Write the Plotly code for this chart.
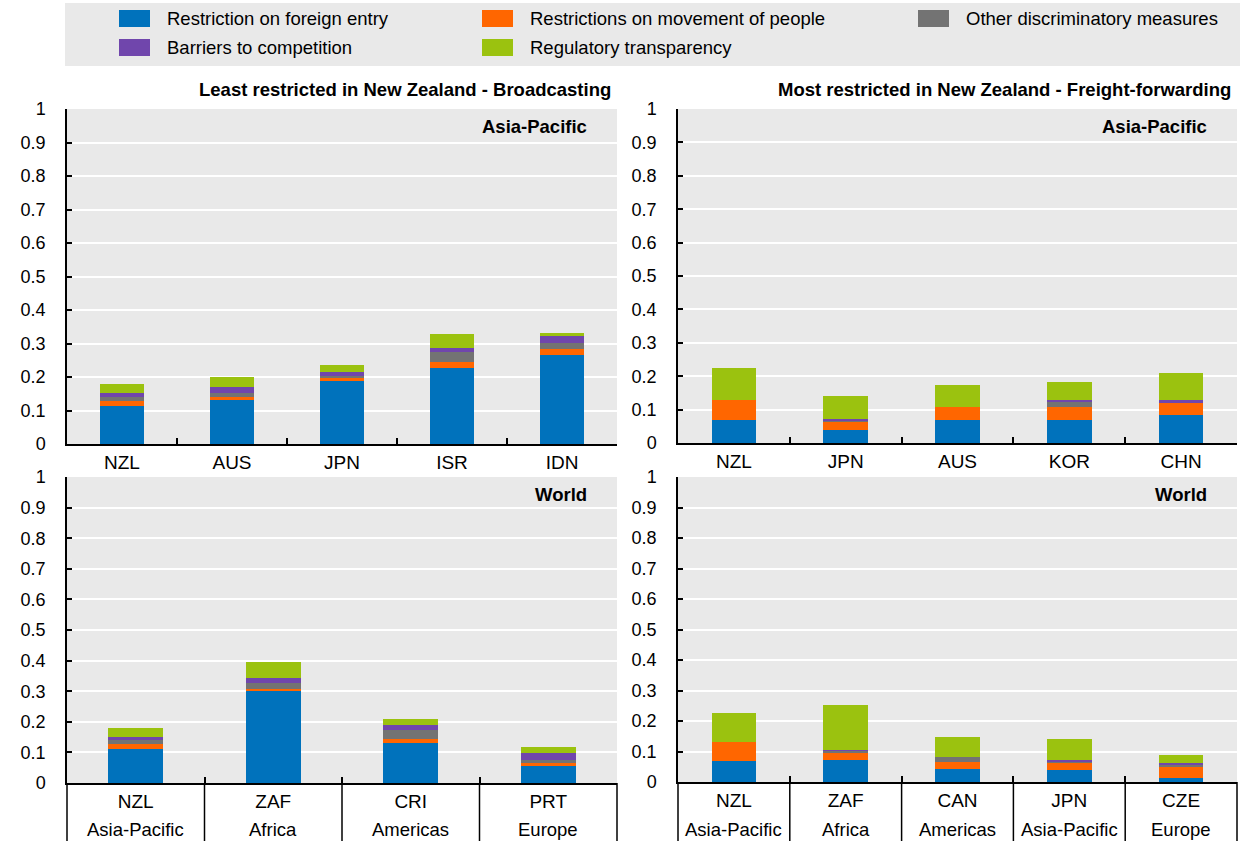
import plotly.graph_objects as go

# Services trade restrictiveness components
series = [
    "Restriction on foreign entry",
    "Restrictions on movement of people",
    "Other discriminatory measures",
    "Barriers to competition",
    "Regulatory transparency",
]
colors = ["#0072BC", "#FF6600", "#737373", "#7046AC", "#9BC20F"]

# Broadcasting - Asia-Pacific
bc_ap_countries = ["NZL", "AUS", "JPN", "ISR", "IDN"]
bc_ap_foreign = [0.112, 0.132, 0.187, 0.226, 0.265]
bc_ap_people = [0.016, 0.008, 0.010, 0.018, 0.019]
bc_ap_other = [0.011, 0.012, 0.006, 0.031, 0.018]
bc_ap_barriers = [0.012, 0.017, 0.011, 0.011, 0.020]
bc_ap_transp = [0.029, 0.030, 0.021, 0.041, 0.010]

# Freight-forwarding - Asia-Pacific
ff_ap_countries = ["NZL", "JPN", "AUS", "KOR", "CHN"]
ff_ap_foreign = [0.070, 0.040, 0.070, 0.070, 0.084]
ff_ap_people = [0.060, 0.025, 0.037, 0.037, 0.037]
ff_ap_other = [0.000, 0.003, 0.000, 0.015, 0.000]
ff_ap_barriers = [0.000, 0.005, 0.000, 0.008, 0.009]
ff_ap_transp = [0.095, 0.067, 0.067, 0.054, 0.081]

# Broadcasting - World
bc_w_countries = ["NZL", "ZAF", "CRI", "PRT"]
bc_w_regions = ["Asia-Pacific", "Africa", "Americas", "Europe"]
bc_w_foreign = [0.112, 0.300, 0.130, 0.055]
bc_w_people = [0.016, 0.008, 0.013, 0.010]
bc_w_other = [0.011, 0.020, 0.029, 0.009]
bc_w_barriers = [0.012, 0.015, 0.016, 0.024]
bc_w_transp = [0.029, 0.051, 0.022, 0.020]

# Freight-forwarding - World
ff_w_countries = ["NZL", "ZAF", "CAN", "JPN", "CZE"]
ff_w_regions = ["Asia-Pacific", "Africa", "Americas", "Asia-Pacific", "Europe"]
ff_w_foreign = [0.070, 0.071, 0.042, 0.040, 0.013]
ff_w_people = [0.060, 0.024, 0.025, 0.025, 0.035]
ff_w_other = [0.000, 0.007, 0.014, 0.003, 0.007]
ff_w_barriers = [0.000, 0.003, 0.000, 0.005, 0.007]
ff_w_transp = [0.095, 0.148, 0.068, 0.067, 0.026]

panel_titles = ["Least restricted in New Zealand - Broadcasting",
                "Most restricted in New Zealand - Freight-forwarding"]
panel_tags = ["Asia-Pacific", "Asia-Pacific", "World", "World"]

FONT = "Liberation Sans, Arial, sans-serif"
W, H = 1245, 841
FS = 18.5

panels = [
    ("x", "y", bc_ap_countries, None,
     [bc_ap_foreign, bc_ap_people, bc_ap_other, bc_ap_barriers, bc_ap_transp]),
    ("x2", "y2", ff_ap_countries, None,
     [ff_ap_foreign, ff_ap_people, ff_ap_other, ff_ap_barriers, ff_ap_transp]),
    ("x3", "y3", bc_w_countries, bc_w_regions,
     [bc_w_foreign, bc_w_people, bc_w_other, bc_w_barriers, bc_w_transp]),
    ("x4", "y4", ff_w_countries, ff_w_regions,
     [ff_w_foreign, ff_w_people, ff_w_other, ff_w_barriers, ff_w_transp]),
]

fig = go.Figure()
for xa, ya, cats, regions, values in panels:
    for name, col, vals in zip(series, colors, values):
        fig.add_trace(go.Bar(
            x=cats, y=vals, name=name, xaxis=xa, yaxis=ya,
            marker=dict(color=col, line=dict(width=0)),
            showlegend=False,
        ))

# Pixel-based panel placement
def px_x(a, b):
    return [a / W, b / W]

def px_y(top, bottom):
    return [1 - bottom / H, 1 - top / H]

domains = {
    "1": (px_x(67, 617), px_y(109, 444)),
    "2": (px_x(678, 1237), px_y(109, 443)),
    "3": (px_x(67, 617), px_y(477, 783)),
    "4": (px_x(678, 1237), px_y(477, 782)),
}

layout_axes = {}
for key, (dx, dy) in domains.items():
    sfx = "" if key == "1" else key
    layout_axes["xaxis" + sfx] = dict(
        domain=dx, anchor="y" + sfx, type="category", automargin=False,
        showline=True, linecolor="black", linewidth=1.5,
        ticks="inside", tickson="boundaries", ticklen=6, tickwidth=1.5,
        tickcolor="black", showgrid=False, zeroline=False,
        tickfont=dict(family=FONT, size=19, color="black"),
        fixedrange=True,
    )
    layout_axes["yaxis" + sfx] = dict(
        domain=dy, anchor="x" + sfx, range=[0, 1], dtick=0.1, automargin=False,
        showline=True, linecolor="black", linewidth=1.5,
        ticks="inside", ticklen=5, tickwidth=1.5, tickcolor="black",
        showgrid=True, gridcolor="white", gridwidth=1.5, zeroline=False,
        tickfont=dict(family=FONT, size=18, color="black"),
        ticklabelstandoff=16, fixedrange=True,
    )

annotations = []
shapes = []

# Panel titles above the top row
for sfx, title in zip(["", "2"], panel_titles):
    annotations.append(dict(
        text="<b>" + title + "</b>", xref="x" + sfx + " domain", yref="y" + sfx + " domain",
        x=1, y=1, xanchor="right", yanchor="middle", xshift=-4, yshift=19,
        showarrow=False, font=dict(family=FONT, size=FS, color="black"),
    ))

# Region tags inside each panel
for sfx, tag in zip(["", "2", "3", "4"], panel_tags):
    annotations.append(dict(
        text="<b>" + tag + "</b>", xref="x" + sfx + " domain", yref="y" + sfx + " domain",
        x=1, y=1, xanchor="right", yanchor="middle", xshift=-28, yshift=-18,
        showarrow=False, font=dict(family=FONT, size=FS, color="black"),
    ))

# Region row and divider lines beneath the bottom panels
for sfx, (dx, dy), cats, regions in [("3", domains["3"], bc_w_countries, bc_w_regions),
                                      ("4", domains["4"], ff_w_countries, ff_w_regions)]:
    plot_h = (dy[1] - dy[0]) * H
    for c, r in zip(cats, regions):
        annotations.append(dict(
            text=r, xref="x" + sfx, yref="y" + sfx + " domain",
            x=c, y=-47 / plot_h, xanchor="center", yanchor="middle",
            showarrow=False, font=dict(family=FONT, size=FS, color="black"),
        ))
    n = len(cats)
    for i in range(n + 1):
        shapes.append(dict(
            type="line", xref="x" + sfx + " domain", yref="y" + sfx + " domain",
            x0=i / n, x1=i / n, y0=0, y1=-70 / plot_h,
            line=dict(color="black", width=1.5),
        ))

# Legend panel
lg_top, lg_bottom = 3, 66
shapes.append(dict(
    type="rect", xref="paper", yref="paper",
    x0=65 / W, x1=1240 / W, y0=1 - lg_bottom / H, y1=1 - lg_top / H,
    fillcolor="#E9E9E9", line=dict(width=0), layer="below",
))
col_swatch_x = [119, 482, 918]
row_center_y = [18.5, 47.5]
for i, (name, col) in enumerate(zip(series, colors)):
    c, r = i % 3, i // 3
    sx = col_swatch_x[c]
    cy = row_center_y[r]
    shapes.append(dict(
        type="rect", xref="paper", yref="paper",
        x0=sx / W, x1=(sx + 31) / W, y0=1 - (cy + 8.5) / H, y1=1 - (cy - 8.5) / H,
        fillcolor=col, line=dict(width=0),
    ))
    annotations.append(dict(
        text=name, xref="paper", yref="paper",
        x=(sx + 46) / W, y=1 - cy / H, xanchor="left", yanchor="middle",
        showarrow=False, font=dict(family=FONT, size=FS, color="black"),
    ))

fig.update_layout(
    template="none",
    width=W, height=H,
    margin=dict(l=0, r=0, t=0, b=0, pad=0, autoexpand=False),
    paper_bgcolor="white", plot_bgcolor="#E9E9E9",
    barmode="stack", bargap=0.6,
    font=dict(family=FONT, size=FS, color="black"),
    annotations=annotations, shapes=shapes,
    showlegend=False,
    **layout_axes,
)

fig.write_html("out.html", config={"displayModeBar": False})
